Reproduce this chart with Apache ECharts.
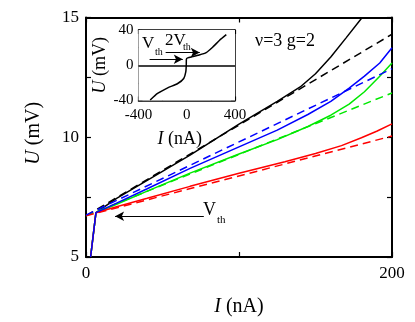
<!DOCTYPE html>
<html><head><meta charset="utf-8">
<script src="https://cdn.jsdelivr.net/npm/echarts@6/dist/echarts.min.js"></script>
<style>html,body{margin:0;padding:0;background:#fff}#c{width:415px;height:322px}</style>
</head><body><div id="c"></div>
<script>
const FONT = 'Liberation Serif';
// tick labels shown
const mainXLabels = [0, 200];
const mainYLabels = [5, 10, 15];
const insetXLabels = [-400, 0, 400];
const insetYLabels = [-40, 0, 40];
// main panel: solid curves [I (nA), U (mV)]
const blackSolid = [[3,5],[6.5,6.85],[20,7.45],[40,8.2],[68,9.25],[100,10.55],[125,11.5],[140,12.1],[150,12.65],[160,13.35],[170,14.15],[180.5,15.0]];
const blueSolid  = [[3,5],[6.5,6.85],[20,7.25],[40,7.85],[68,8.7],[100,9.6],[125,10.3],[145,10.95],[160,11.5],[172,12.05],[182,12.55],[192,13.1],[200,13.74]];
const greenSolid = [[3,5],[6.5,6.85],[20,7.2],[40,7.75],[68,8.5],[100,9.3],[125,9.9],[145,10.45],[160,10.92],[172,11.38],[182,11.9],[192,12.55],[200,13.1]];
const redSolid   = [[3,5],[6.5,6.85],[20,7.1],[40,7.45],[68,7.95],[100,8.5],[130,8.98],[150,9.32],[167,9.65],[180,9.98],[190,10.25],[200,10.56]];
// dashed linear fits
const blackDashed = [[0,6.72],[200,14.3]];
const blueDashed  = [[0,6.75],[200,12.86]];
const greenDashed = [[0,6.72],[200,11.85]];
const redDashed   = [[0,6.72],[200,10.05]];
// inset curve
const insetCurve = [[-303,-39.5],[-242,-32],[-158,-25.6],[-75,-20.7],[-25,-15],[-8,-7.5],[-4,0],[-3,6.8],[8,8.4],[50,9.8],[92,11.3],[161,14.4],[217,20.8],[272,28.3],[328,34.7]];
// annotation arrows (data coords)
const vthArrow = [[77,6.7],[19,6.7]];
const insetArrow1 = [[-308,6.8],[-33,6.8]];
const insetArrow2 = [[-175,14.5],[108,14.5]];

const chart = echarts.init(document.getElementById('c'), null, {renderer:'canvas'});
function mkX(grid, pos, min, max, interval, labels, opts){
  return Object.assign({
    type:'value', gridIndex:grid, position:pos, min, max, interval,
    axisLine:{show:true, onZero:false, lineStyle:{color:'#000', width: opts.lw}},
    axisTick:{show:true, inside:true, length: opts.tl, lineStyle:{color:'#000', width:1.2}},
    axisLabel:{show: !!labels, formatter: v => (labels && labels.includes(v)) ? String(v) : '', fontFamily:FONT, fontSize: opts.fs, color:'#000', margin: opts.margin, showMinLabel:true, showMaxLabel:true},
    splitLine:{show:false}
  }, opts.extra || {});
}
const lineStyle = (c, dashed) => ({color:c, width:1.5, type: dashed ? [8,5] : 'solid'});
function s(data, c, dashed, z){
  return {type:'line', xAxisIndex:0, yAxisIndex:0, data, symbol:'none', showSymbol:false,
    lineStyle: lineStyle(c, dashed), itemStyle:{color:c}, z: z||2, animation:false};
}
const GREEN = '#00e800';
const arrowML = (pts) => ({
  silent:true, symbol:['none','arrow'], symbolSize:[7,9],
  lineStyle:{color:'#000', width:1.2, type:'solid'}, label:{show:false},
  data:[[{coord:pts[0]},{coord:pts[1]}]]
});
const option = {
  animation:false,
  backgroundColor:'#fff',
  grid:[
    {left:86, top:17.5, width:306, height:242.5, show:false},
    {left:138.5, top:30, width:96.5, height:70.5, show:true, backgroundColor:'#fff', borderWidth:0, z:5}
  ],
  xAxis:[
    mkX(0,'bottom',0,200,100,mainXLabels,{lw:2,tl:5,fs:17,margin:8, extra:{name:'{i|I} (nA)', nameLocation:'middle', nameGap:40, nameTextStyle:{fontFamily:FONT, fontSize:20, color:'#000', rich:{i:{fontFamily:FONT, fontSize:20, fontStyle:'italic', color:'#000'}}}}}),
    mkX(0,'top',0,200,100,null,{lw:2,tl:5,fs:17,margin:8}),
    mkX(1,'bottom',-400,400,200,insetXLabels,{lw:1.5,tl:4,fs:15,margin:7, extra:{name:'{i|I} (nA)', nameLocation:'middle', nameGap:30, nameTextStyle:{fontFamily:FONT, fontSize:18, color:'#000', padding:[0,14,0,0], rich:{i:{fontFamily:FONT, fontSize:18, fontStyle:'italic', color:'#000'}}}}}),
    mkX(1,'top',-400,400,200,null,{lw:1.5,tl:4,fs:15,margin:5})
  ],
  yAxis:[
    mkX(0,'left',5,15,2.5,mainYLabels,{lw:2,tl:5,fs:17,margin:7, extra:{name:'{i|U} (mV)', nameLocation:'middle', nameGap:42, nameTextStyle:{fontFamily:FONT, fontSize:20, color:'#000', padding:[0,0,0,8], rich:{i:{fontFamily:FONT, fontSize:20, fontStyle:'italic', color:'#000'}}}}}),
    mkX(0,'right',5,15,2.5,null,{lw:2,tl:5,fs:17,margin:7}),
    mkX(1,'left',-40,40,20,insetYLabels,{lw:1.5,tl:4,fs:15,margin:5, extra:{name:'{i|U} (mV)', nameLocation:'middle', nameGap:25, nameTextStyle:{fontFamily:FONT, fontSize:18, color:'#000', rich:{i:{fontFamily:FONT, fontSize:18, fontStyle:'italic', color:'#000'}}}}}),
    mkX(1,'right',-40,40,20,null,{lw:1.5,tl:4,fs:15,margin:5})
  ],
  series:[
    s(blackSolid,'#000',false),
    s(blackDashed,'#000',true),
    s(greenSolid,GREEN,false),
    s(greenDashed,GREEN,true),
    s(redSolid,'#ff0000',false),
    s(redDashed,'#ff0000',true),
    s(blueSolid,'#0000ff',false,3),
    Object.assign(s(blueDashed,'#0000ff',true), {markLine: arrowML(vthArrow)}),
    {type:'line', xAxisIndex:2, yAxisIndex:2, data:insetCurve, symbol:'none', z:6, smooth:0.2,
      lineStyle:{color:'#000', width:1.5}, itemStyle:{color:'#000'},
      markLine:{silent:true, symbol:['none','none'], label:{show:false}, lineStyle:{color:'#000', width:1.5, type:'solid'}, data:[{yAxis:0}]}},
    {type:'line', xAxisIndex:2, yAxisIndex:2, data:[], symbol:'none', z:6, markLine: arrowML(insetArrow1)},
    {type:'line', xAxisIndex:2, yAxisIndex:2, data:[], symbol:'none', z:6, markLine: arrowML(insetArrow2)}
  ],
  graphic:[
    {type:'text', left:255, top:32, z:10, style:{text:'ν=3 g=2', font:'18px "Liberation Serif"', fill:'#000'}},
    {type:'text', left:203, top:201, z:10, style:{text:'V', font:'18px "Liberation Serif"', fill:'#000'}},
    {type:'text', left:217, top:215, z:10, style:{text:'th', font:'11px "Liberation Serif"', fill:'#000'}},
    {type:'text', left:142, top:35, z:10, style:{text:'V', font:'17px "Liberation Serif"', fill:'#000'}},
    {type:'text', left:155, top:47, z:10, style:{text:'th', font:'10px "Liberation Serif"', fill:'#000'}},
    {type:'text', left:165, top:32, z:10, style:{text:'2V', font:'17px "Liberation Serif"', fill:'#000'}},
    {type:'text', left:183, top:42, z:10, style:{text:'th', font:'10px "Liberation Serif"', fill:'#000'}}
  ]
};
chart.setOption(option);
</script></body></html>
